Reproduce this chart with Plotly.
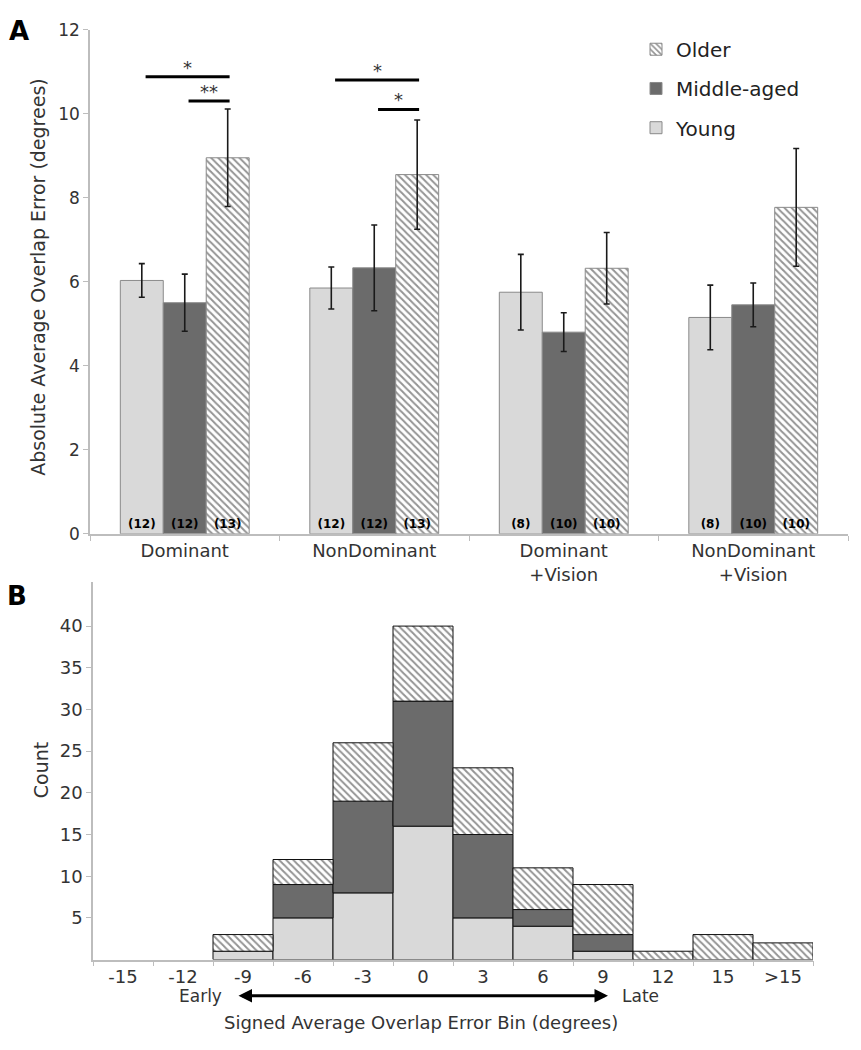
import plotly.graph_objects as go

W, H = 861, 1050
FONT = "DejaVu Sans"

# ---------------- Panel A data ----------------
conditions = ["Dominant", "NonDominant", "Dominant<br>+Vision", "NonDominant<br>+Vision"]
young_mean = [6.03, 5.85, 5.75, 5.15]
young_err = [0.40, 0.50, 0.90, 0.77]
young_n = ["(12)", "(12)", "(8)", "(8)"]
middle_mean = [5.50, 6.33, 4.80, 5.45]
middle_err = [0.68, 1.02, 0.46, 0.52]
middle_n = ["(12)", "(12)", "(10)", "(10)"]
older_mean = [8.95, 8.55, 6.32, 7.77]
older_err = [1.16, 1.30, 0.85, 1.40]
older_n = ["(13)", "(13)", "(10)", "(10)"]

# significance brackets: (category index, from group, to group, y level, label)
sig_cat = [0, 0, 1, 1]
sig_from = [0, 1, 0, 1]
sig_to = [2, 2, 2, 2]
sig_y = [10.88, 10.3, 10.8, 10.1]
sig_label = ["*", "**", "*", "*"]

# ---------------- Panel B data ----------------
bins = ["-15", "-12", "-9", "-6", "-3", "0", "3", "6", "9", "12", "15", ">15"]
young_count = [0, 0, 1, 5, 8, 16, 5, 4, 1, 0, 0, 0]
middle_count = [0, 0, 0, 4, 11, 15, 10, 2, 2, 0, 0, 0]
older_count = [0, 0, 2, 3, 7, 9, 8, 5, 6, 1, 3, 2]

C_YOUNG = "#d9d9d9"
C_MID = "#6b6b6b"
HATCH = dict(shape="\\", fgcolor="#2a2a2a", bgcolor="white", size=5, solidity=0.4)

BARGAP = 0.32
bw = (1 - BARGAP) / 3.0

fig = go.Figure()

groups = [
    ("Young", young_mean, young_err, young_n, dict(color=C_YOUNG), "legend3"),
    ("Middle-aged", middle_mean, middle_err, middle_n, dict(color=C_MID), "legend2"),
    ("Older", older_mean, older_err, older_n, dict(color="white", pattern=HATCH), "legend"),
]
for name, m, e, n, mk, lg in groups:
    marker = dict(mk)
    marker["line"] = dict(color="#8a8a8a", width=1)
    fig.add_trace(go.Bar(
        x=conditions, y=m, name=name, marker=marker,
        error_y=dict(type="data", array=e, visible=True, color="#1a1a1a", thickness=1.6, width=3),
        text=n, textposition="inside", insidetextanchor="start", textangle=0,
        constraintext="none",
        textfont=dict(family=FONT, size=12, color="black", weight="bold"),
        xaxis="x", yaxis="y", legend=lg, showlegend=True,
    ))

# Panel B stacked histogram (stacked manually with base, one shared slot)
def nz(v):
    return [None if a == 0 else a for a in v]

cum = [0] * len(bins)
for name, v, mk in [("Young", young_count, dict(color=C_YOUNG)),
                    ("Middle-aged", middle_count, dict(color=C_MID)),
                    ("Older", older_count, dict(color="white", pattern=HATCH))]:
    marker = dict(mk)
    marker["line"] = dict(color="#111111", width=1)
    fig.add_trace(go.Bar(x=bins, y=nz(v), base=list(cum), name=name, marker=marker,
                         width=1, offset=-0.5, offsetgroup="stack",
                         xaxis="x2", yaxis="y2", showlegend=False))
    cum = [a + b for a, b in zip(cum, v)]

shapes = []
annotations = []
for c, f, t, yv, lab in zip(sig_cat, sig_from, sig_to, sig_y, sig_label):
    x0 = c + (f - 1) * bw
    x1 = c + (t - 1) * bw
    shapes.append(dict(type="line", xref="x", yref="y", x0=x0 + 0.02, x1=x1 + 0.01, y0=yv, y1=yv,
                       line=dict(color="black", width=3)))
    annotations.append(dict(x=(x0 + x1) / 2 + 0.015, y=yv, xref="x", yref="y", text=lab, showarrow=False,
                            xanchor="center", yanchor="bottom", yshift=-3,
                            font=dict(family=FONT, size=18, color="#333")))

def px(x):
    return x / W

def py(y):
    return 1 - y / H

def ptext(x, y, text, size, color="#333", angle=0):
    return dict(x=px(x), y=py(y), xref="paper", yref="paper", text=text, showarrow=False,
                xanchor="center", yanchor="middle", textangle=angle,
                font=dict(family=FONT, size=size, color=color))

annotations += [
    ptext(19, 21, "<b>A</b>", 26, "black"),
    ptext(17, 597, "<b>B</b>", 26, "black"),
    ptext(38, 272, "Absolute Average Overlap Error (degrees)", 19, angle=-90),
    ptext(41, 775, "Count", 19, angle=-90),
    ptext(421, 1032, "Signed Average Overlap Error Bin (degrees)", 18),
    ptext(200, 1005, "Early", 17),
    ptext(640, 1005, "Late", 17),
    dict(x=px(608), y=py(1005), ax=-(608 - 237), ay=0, xref="paper", yref="paper",
         axref="pixel", ayref="pixel", text="", showarrow=True, arrowhead=2, arrowside="end+start",
         arrowwidth=3, arrowsize=0.9, arrowcolor="black"),
]

axis_common = dict(showgrid=False, zeroline=False, showline=True, linecolor="#bdbdbd", linewidth=1.5,
                   ticks="outside", tickcolor="#bdbdbd", ticklen=5)

leg_common = dict(font=dict(family=FONT, size=20, color="#222"), bgcolor="rgba(0,0,0,0)",
                  xanchor="left", yanchor="middle", x=px(636), itemclick=False)

fig.update_layout(
    width=W, height=H, margin=dict(l=0, r=0, t=0, b=0),
    paper_bgcolor="white", plot_bgcolor="white",
    barmode="group", bargap=BARGAP, bargroupgap=0,
    font=dict(family=FONT, color="#333"),
    xaxis=dict(domain=[px(90), px(848)], anchor="y", type="category", tickson="boundaries",
               tickfont=dict(size=18, color="#333"), **axis_common),
    yaxis=dict(domain=[py(534), py(20)], anchor="x", range=[0, 12], dtick=2,
               tickfont=dict(size=17, color="#333"), **axis_common),
    xaxis2=dict(domain=[px(93), px(813)], anchor="y2", type="category", tickson="boundaries",
                range=[-0.5, 11.5], tickfont=dict(size=18, color="#333"), **axis_common),
    yaxis2=dict(domain=[py(968), py(583)], anchor="x2", range=[0, 45.3], tickvals=[5, 10, 15, 20, 25, 30, 35, 40],
                tickfont=dict(size=18, color="#333"), **axis_common),
    legend=dict(y=py(40), **leg_common),
    legend2=dict(y=py(80), **leg_common),
    legend3=dict(y=py(120), **leg_common),
    shapes=shapes, annotations=annotations,
)
fig.write_html("out.html", config={"displayModeBar": False},
               post_script="document.body.style.margin='0px';")
